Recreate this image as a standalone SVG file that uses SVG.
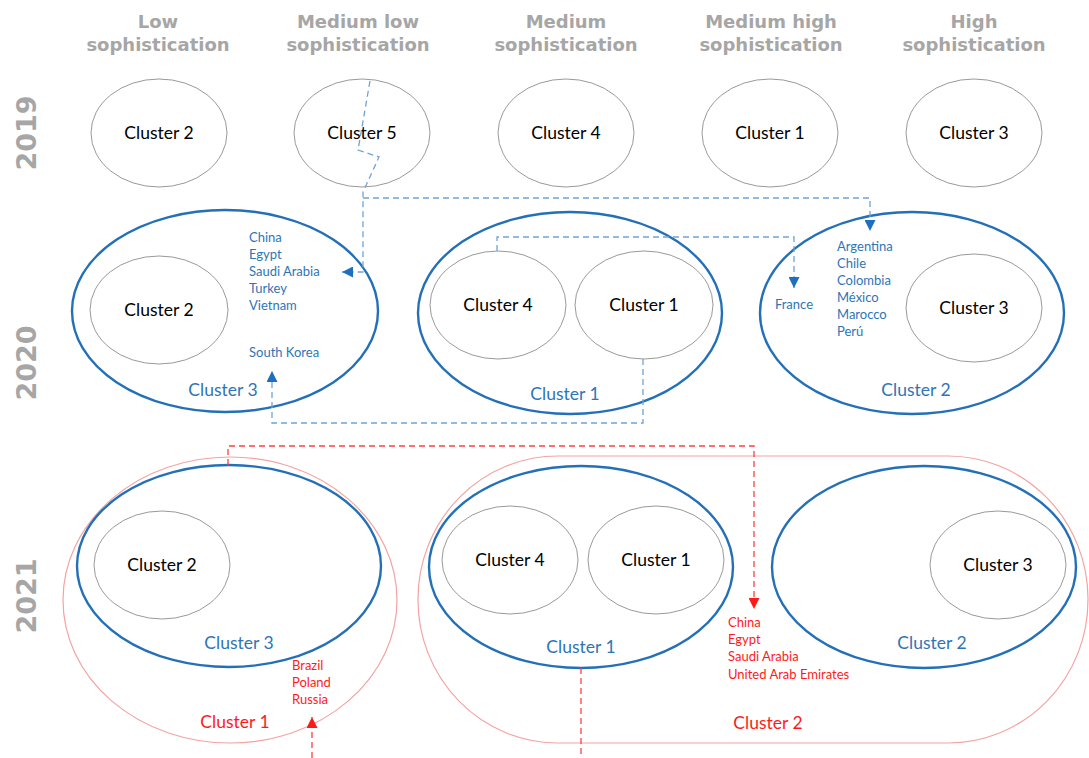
<svg xmlns="http://www.w3.org/2000/svg" width="1089" height="758" viewBox="0 0 1089 758">
<style>
.hdr{font-family:"DejaVu Sans",sans-serif;font-weight:bold;font-size:18px;fill:#a6a6a6;text-anchor:middle}
.yr{font-family:"DejaVu Sans",sans-serif;font-weight:bold;font-size:27px;fill:#a6a6a6;text-anchor:middle}
.small{fill:#fff;stroke:#7f7f7f;stroke-width:0.8}
.big{fill:none;stroke:#2470b8;stroke-width:2.4}
.outer{fill:none;stroke:#f4a3a3;stroke-width:1.2}
.lbl{font-family:Lato,"Liberation Sans",sans-serif;font-size:17.5px;fill:#000;text-anchor:middle}
.blbl{font-family:Lato,"Liberation Sans",sans-serif;font-size:17.5px;fill:#2e75b6;text-anchor:middle}
.rlbl{font-family:Lato,"Liberation Sans",sans-serif;font-size:17.5px;fill:#ff1a1a;text-anchor:middle}
.blist{font-family:Lato,"Liberation Sans",sans-serif;font-size:13px;fill:#2e75b6}
.rlist{font-family:Lato,"Liberation Sans",sans-serif;font-size:13px;fill:#ff1a1a}
.bdash{fill:none;stroke:#6fa3d8;stroke-width:1.3;stroke-dasharray:6 4}
.rdash{fill:none;stroke:#ff4040;stroke-width:1.3;stroke-dasharray:6 4}
</style>
<defs>
<marker id="ab" viewBox="0 0 10 10" refX="10" refY="5" markerWidth="11" markerHeight="11" markerUnits="userSpaceOnUse" orient="auto"><path d="M0,0 L10,5 L0,10 z" fill="#1f6fbf"/></marker>
<marker id="ar" viewBox="0 0 10 10" refX="10" refY="5" markerWidth="11" markerHeight="11" markerUnits="userSpaceOnUse" orient="auto"><path d="M0,0 L10,5 L0,10 z" fill="#ff1a1a"/></marker>
</defs>
<rect width="1089" height="758" fill="#fff"/>

<g id="headers">
<text class="hdr" x="158" y="28">Low</text><text class="hdr" x="158" y="51">sophistication</text>
<text class="hdr" x="358" y="28">Medium low</text><text class="hdr" x="358" y="51">sophistication</text>
<text class="hdr" x="566" y="28">Medium</text><text class="hdr" x="566" y="51">sophistication</text>
<text class="hdr" x="771" y="28">Medium high</text><text class="hdr" x="771" y="51">sophistication</text>
<text class="hdr" x="974" y="28">High</text><text class="hdr" x="974" y="51">sophistication</text>
</g>
<g id="years">
<text class="yr" transform="translate(36,133) rotate(-90)">2019</text>
<text class="yr" transform="translate(36,363) rotate(-90)">2020</text>
<text class="yr" transform="translate(36,596) rotate(-90)">2021</text>
</g>

<!-- 2019 -->
<g id="y2019-c2"><ellipse class="small" cx="159" cy="133" rx="68" ry="54"/><text class="lbl" x="159" y="139">Cluster 2</text></g>
<g id="y2019-c5"><ellipse class="small" cx="362" cy="133" rx="68" ry="54"/><text class="lbl" x="362" y="139">Cluster 5</text></g>
<g id="y2019-c4"><ellipse class="small" cx="566" cy="133" rx="68" ry="54"/><text class="lbl" x="566" y="139">Cluster 4</text></g>
<g id="y2019-c1"><ellipse class="small" cx="770" cy="133" rx="68" ry="54"/><text class="lbl" x="770" y="139">Cluster 1</text></g>
<g id="y2019-c3"><ellipse class="small" cx="974" cy="133" rx="68" ry="54"/><text class="lbl" x="974" y="139">Cluster 3</text></g>

<!-- 2020 -->
<g id="y2020-c3">
<ellipse class="big" cx="225" cy="311" rx="153" ry="101"/>
<text class="blbl" x="223" y="396">Cluster 3</text>
<text class="blist" x="249" y="242">China</text>
<text class="blist" x="249" y="259">Egypt</text>
<text class="blist" x="249" y="276">Saudi Arabia</text>
<text class="blist" x="249" y="293">Turkey</text>
<text class="blist" x="249" y="310">Vietnam</text>
<text class="blist" x="249" y="357">South Korea</text>
</g>
<g id="y2020-c3-c2"><ellipse class="small" cx="159" cy="310" rx="69" ry="54"/><text class="lbl" x="159" y="316">Cluster 2</text></g>

<g id="y2020-c1">
<ellipse class="big" cx="570" cy="313" rx="152" ry="101"/>
<text class="blbl" x="565" y="400">Cluster 1</text>
</g>
<g id="y2020-c1-c4"><ellipse class="small" cx="498" cy="305" rx="68" ry="54"/><text class="lbl" x="498" y="311">Cluster 4</text></g>
<g id="y2020-c1-c1"><ellipse class="small" cx="644" cy="305" rx="69" ry="54"/><text class="lbl" x="644" y="311">Cluster 1</text></g>

<g id="y2020-c2">
<ellipse class="big" cx="912" cy="313" rx="152" ry="101"/>
<text class="blbl" x="916" y="396">Cluster 2</text>
<text class="blist" x="794" y="309" text-anchor="middle">France</text>
<text class="blist" x="837" y="251">Argentina</text>
<text class="blist" x="837" y="268">Chile</text>
<text class="blist" x="837" y="285">Colombia</text>
<text class="blist" x="837" y="302">México</text>
<text class="blist" x="837" y="319">Marocco</text>
<text class="blist" x="837" y="336">Perú</text>
</g>
<g id="y2020-c2-c3"><ellipse class="small" cx="974" cy="308" rx="68" ry="54"/><text class="lbl" x="974" y="314">Cluster 3</text></g>

<!-- 2021 -->
<g id="y2021-r1">
<ellipse class="outer" cx="230" cy="600" rx="167" ry="143"/>
<text class="rlbl" x="235" y="728">Cluster 1</text>
<text class="rlist" x="292" y="670">Brazil</text>
<text class="rlist" x="292" y="687">Poland</text>
<text class="rlist" x="292" y="704">Russia</text>
</g>
<g id="y2021-r2">
<rect class="outer" x="418" y="456" width="670" height="287" rx="140" ry="143"/>
<text class="rlbl" x="768" y="729">Cluster 2</text>
<text class="rlist" x="728" y="627">China</text>
<text class="rlist" x="728" y="644">Egypt</text>
<text class="rlist" x="728" y="661">Saudi Arabia</text>
<text class="rlist" x="728" y="679">United Arab Emirates</text>
</g>
<g id="y2021-b3">
<ellipse class="big" cx="229" cy="566" rx="152" ry="101"/>
<text class="blbl" x="239" y="649">Cluster 3</text>
</g>
<g id="y2021-b3-c2"><ellipse class="small" cx="162" cy="565" rx="68" ry="54"/><text class="lbl" x="162" y="571">Cluster 2</text></g>
<g id="y2021-b1">
<ellipse class="big" cx="581" cy="567" rx="152" ry="101"/>
<text class="blbl" x="581" y="653">Cluster 1</text>
</g>
<g id="y2021-b1-c4"><ellipse class="small" cx="510" cy="560" rx="68" ry="54"/><text class="lbl" x="510" y="566">Cluster 4</text></g>
<g id="y2021-b1-c1"><ellipse class="small" cx="656" cy="560" rx="68" ry="54"/><text class="lbl" x="656" y="566">Cluster 1</text></g>
<g id="y2021-b2">
<ellipse class="big" cx="924" cy="567" rx="152" ry="101"/>
<text class="blbl" x="932" y="649">Cluster 2</text>
</g>
<g id="y2021-b2-c3"><ellipse class="small" cx="998" cy="565" rx="68" ry="54"/><text class="lbl" x="998" y="571">Cluster 3</text></g>

<g id="connectors">
<path class="bdash" d="M370,81 L358,150 L379,157 L363,192 L363,272 L342,272" marker-end="url(#ab)"/>
<path class="bdash" d="M363,198 L870,198 L870,231" marker-end="url(#ab)"/>
<path class="bdash" d="M497,251 L497,237 L794,237 L794,288" marker-end="url(#ab)"/>
<path class="bdash" d="M643,359 L643,423 L272,423 L272,371" marker-end="url(#ab)"/>
<path class="rdash" d="M228,465 L228,446 L754,446 L754,609" marker-end="url(#ar)"/>
<path class="rdash" d="M312,758 L312,717" marker-end="url(#ar)"/>
<path class="rdash" d="M581,668 L581,758"/>
</g>
</svg>
